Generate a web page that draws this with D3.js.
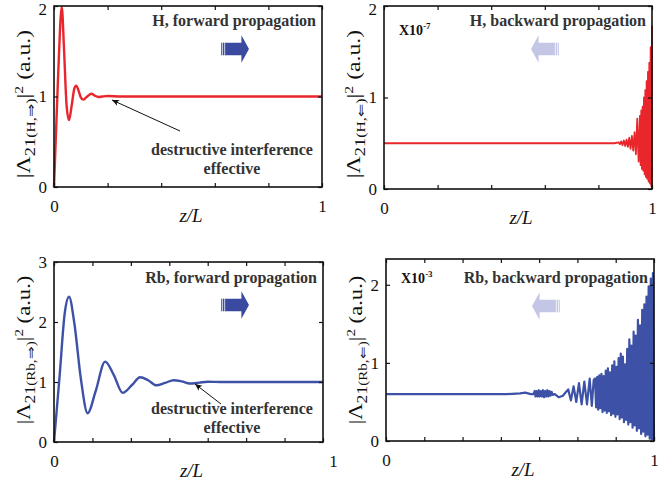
<!DOCTYPE html>
<html>
<head>
<meta charset="utf-8">
<script src="https://cdn.jsdelivr.net/npm/d3@7"></script>
<style>
  html, body { margin: 0; padding: 0; background: #fff; }
  svg { display: block; }
  text { font-family: "Liberation Serif", "Times New Roman", serif; }
</style>
</head>
<body>
<svg id="chart" width="672" height="482"></svg>
<script>
// ---- H, forward propagation: damped ringing that settles at 1
const zHFwd = [0, 0.015, 0.029, 0.037, 0.047, 0.056, 0.066, 0.076, 0.083, 0.091, 0.1, 0.109, 0.12, 0.132, 0.14, 0.152, 0.165, 0.18, 0.2, 0.25, 1];
const vHFwd = [0, 1.2, 1.99, 1.55, 0.9, 0.74, 0.9, 1.09, 1.12, 1.07, 0.99, 0.965, 0.99, 1.02, 1.03, 1.01, 0.995, 1.0, 1.005, 1.0, 1.0];

// ---- H, backward propagation (x10^-7): flat, then fast growing oscillation near z = L
const zHBwd = [0, 0.86, 0.875, 0.88, 0.885, 0.89, 0.895, 0.9, 0.905, 0.91, 0.915, 0.92, 0.925, 0.93, 0.935, 0.94,
  0.945, 0.95,
  0.955, 0.9575, 0.96, 0.9625, 0.965, 0.9675, 0.97, 0.9725, 0.975, 0.9775, 0.98, 0.9825, 0.985, 0.9875,
  0.99, 0.9925, 0.995, 0.9975, 1.0, 1.0];
const vHBwd = [0.5, 0.5, 0.51, 0.49, 0.52, 0.48, 0.53, 0.47, 0.54, 0.46, 0.56, 0.44, 0.58, 0.42, 0.62, 0.38,
  0.77, 0.3,
  0.8, 0.26, 0.86, 0.22, 0.9, 0.2, 1.0, 0.16, 1.08, 0.13, 1.18, 0.11, 1.28, 0.08,
  1.38, 0.06, 1.55, 0.03, 1.78, 0.0];

// ---- Rb, forward propagation
const zRbFwd = [0, 0.02, 0.04, 0.056, 0.075, 0.1, 0.125, 0.155, 0.19, 0.222, 0.255, 0.29, 0.32, 0.35, 0.38, 0.413, 0.445, 0.475, 0.505, 0.54, 0.57, 0.62, 1];
const vRbFwd = [0, 1.05, 2.15, 2.42, 2.0, 1.05, 0.48, 0.85, 1.34, 1.12, 0.82, 0.95, 1.08, 1.03, 0.945, 0.985, 1.03, 1.01, 0.975, 0.99, 1.005, 1.0, 1.0];

// ---- Rb, backward propagation (x10^-3)
const zRbBwd = [0, 0.45, 0.5, 0.52, 0.54, 0.55, 0.555, 0.558, 0.562, 0.566, 0.57, 0.574, 0.578, 0.582, 0.586, 0.59, 0.594,
  0.598, 0.602, 0.606, 0.61, 0.614, 0.618, 0.622, 0.63, 0.645, 0.66, 0.67, 0.68, 0.69, 0.7, 0.71, 0.72, 0.73, 0.74, 0.75,
  0.76, 0.768, 0.775,
  0.78, 0.784, 0.788, 0.792, 0.796, 0.8, 0.804, 0.808, 0.812, 0.816, 0.82, 0.824, 0.828, 0.832, 0.836, 0.84,
  0.844, 0.848, 0.852, 0.856, 0.86, 0.864, 0.868, 0.872, 0.876, 0.88, 0.884, 0.888, 0.892, 0.896, 0.9, 0.904,
  0.908, 0.912, 0.916, 0.92, 0.924, 0.928, 0.932, 0.936, 0.94, 0.944, 0.948, 0.952, 0.956, 0.96, 0.964, 0.968,
  0.972, 0.976, 0.98, 0.984, 0.988, 0.992, 0.996, 1.0];
const vRbBwd = [0.6, 0.6, 0.61, 0.62, 0.6, 0.6, 0.64, 0.57, 0.64, 0.57, 0.65, 0.57, 0.64, 0.57, 0.65, 0.56, 0.64,
  0.57, 0.65, 0.57, 0.64, 0.58, 0.63, 0.59, 0.6, 0.56, 0.58, 0.62, 0.66, 0.52, 0.7, 0.5, 0.74, 0.47, 0.76, 0.47,
  0.8, 0.45, 0.78,
  0.8, 0.43, 0.82, 0.4, 0.84, 0.42, 0.86, 0.37, 0.83, 0.39, 0.9, 0.36, 0.93, 0.38, 0.88, 0.33,
  0.97, 0.35, 1.02, 0.31, 0.95, 0.34, 1.06, 0.28, 1.12, 0.3, 1.08, 0.24, 0.98, 0.27, 1.18, 0.21,
  1.3, 0.24, 1.22, 0.17, 1.4, 0.2, 1.35, 0.13, 1.55, 0.16, 1.48, 0.09, 1.68, 0.12, 1.75, 0.06,
  1.85, 0.08, 1.98, 0.03, 2.08, 0.02, 2.15, 0.0];

// ---- tick positions and labels
const xTicksFifths = [0, 0.2, 0.4, 0.6, 0.8, 1];
const xTicksSevenths = [0, 0.1429, 0.2857, 0.4286, 0.5714, 0.7143, 0.8571, 1];
const xTickLabels = ["0", "1"];
const yTicks2 = [0, 1, 2];
const yTicks3 = [0, 1, 2, 3];

const RED = "#e8262b";
const BLUE = "#3d52a6";
const FWD_ARROW = "#3a4aa0";
const BWD_ARROW = "#c4c6e6";
const TEXT_GRAY = "#333";

const svg = d3.select("#chart");

const defs = svg.append("defs");
defs.append("marker")
  .attr("id", "tip")
  .attr("viewBox", "0 0 10 10")
  .attr("refX", 10).attr("refY", 5)
  .attr("markerWidth", 9).attr("markerHeight", 7)
  .attr("markerUnits", "userSpaceOnUse")
  .attr("orient", "auto")
  .append("path")
  .attr("d", "M0,0.5 L10,5 L0,9.5 L2.5,5 Z")
  .attr("fill", "#111");

const panels = [
  { frame: [54, 322, 6, 187], z: zHFwd, v: vHFwd, ymax: 2, yTicks: yTicks2, xTicks: xTicksFifths,
    color: RED, width: 2.4, curve: d3.curveMonotoneX, title: "H, forward propagation", sup: "(H,\u21D2)",
    arrow: { dir: 1, tip: [249, 49] }, labelY: 104, titleY: 26,
    note: { x: 232, y: 155, from: [180, 131], to: [112, 100] } },
  { frame: [384, 652, 6, 189], z: zHBwd, v: vHBwd, ymax: 2, yTicks: yTicks2, xTicks: xTicksFifths,
    color: RED, width: 1.8, curve: d3.curveLinear, title: "H, backward propagation", sup: "(H,\u21D0)",
    arrow: { dir: -1, tip: [531, 49] }, labelY: 104, titleY: 26, exp: "-7", expY: 35 },
  { frame: [54, 323, 262, 442], z: zRbFwd, v: vRbFwd, ymax: 3, yTicks: yTicks3, xTicks: xTicksSevenths,
    color: BLUE, width: 2.4, curve: d3.curveMonotoneX, title: "Rb, forward propagation", sup: "(Rb,\u21D2)",
    arrow: { dir: 1, tip: [249, 305] }, labelY: 350, titleY: 283, lastLabelDx: 10,
    note: { x: 232, y: 414, from: [221, 404], to: [195, 384] } },
  { frame: [386, 654, 259, 441], z: zRbBwd, v: vRbBwd, ymax: 2.33, yTicks: yTicks2, xTicks: xTicksSevenths,
    color: BLUE, width: 2.2, curve: d3.curveLinear, title: "Rb, backward propagation", sup: "(Rb,\u21D0)",
    arrow: { dir: -1, tip: [532, 306] }, labelY: 350, titleY: 283, exp: "-3", expY: 283 }
];

function tickText(d) {
  if (d === 0) return xTickLabels[0];
  if (d === 1) return xTickLabels[1];
  return "";
}

function blockArrow(g, a, fill) {
  // striped tail, solid shaft, short wide head; dir = +1 points right, -1 points left
  const [tx, cy] = a.tip;
  const s = a.dir;
  const X = dx => tx - s * dx;
  const ag = g.append("g").attr("fill", fill);
  [27.8, 26.0, 24.3].forEach(dx => {
    ag.append("rect").attr("x", Math.min(X(dx), X(dx - 1.1))).attr("y", cy - 6.3)
      .attr("width", 1.1).attr("height", 12.6);
  });
  ag.append("path").attr("d",
    `M${X(23.3)},${cy - 6.3} L${X(7.6)},${cy - 6.3} L${X(7.6)},${cy - 13.8} L${X(0)},${cy}
     L${X(7.6)},${cy + 13.8} L${X(7.6)},${cy + 6.3} L${X(23.3)},${cy + 6.3} Z`);
}

panels.forEach(p => {
  const [x0, x1, y0, y1] = p.frame;
  const g = svg.append("g");
  const x = d3.scaleLinear().domain([0, 1]).range([x0, x1]);
  const y = d3.scaleLinear().domain([0, p.ymax]).range([y1, y0]);

  // curve
  const pts = p.z.map((z, i) => [z, p.v[i]]);
  const line = d3.line().x(d => x(d[0])).y(d => y(d[1])).curve(p.curve);
  g.append("path").datum(pts)
    .attr("d", line)
    .attr("fill", "none")
    .attr("stroke", p.color)
    .attr("stroke-width", p.width)
    .attr("stroke-linejoin", "round");

  // axes with inward ticks on all four sides
  const bottom = g.append("g").attr("transform", `translate(0,${y1})`)
    .call(d3.axisBottom(x).tickValues(p.xTicks).tickSizeInner(-4).tickSizeOuter(0).tickPadding(13).tickFormat(tickText));
  const top = g.append("g").attr("transform", `translate(0,${y0})`)
    .call(d3.axisTop(x).tickValues(p.xTicks).tickSizeInner(-4).tickSizeOuter(0).tickFormat(() => ""));
  const left = g.append("g").attr("transform", `translate(${x0},0)`)
    .call(d3.axisLeft(y).tickValues(p.yTicks).tickSizeInner(-4).tickSizeOuter(0).tickPadding(7).tickFormat(d3.format("d")));
  const right = g.append("g").attr("transform", `translate(${x1},0)`)
    .call(d3.axisRight(y).tickValues(p.yTicks).tickSizeInner(-4).tickSizeOuter(0).tickFormat(() => ""));
  [bottom, top, left, right].forEach(a => {
    a.select(".domain").remove();
    a.attr("font-size", 17);
    a.selectAll("line").attr("stroke", "#111").attr("stroke-width", 1.2);
    a.selectAll("text").attr("fill", "#111");
  });
  // keep a label sitting on the top edge of the frame inside the canvas
  left.selectAll(".tick text").filter(d => y(d) < 9).attr("dy", "0.5em");
  if (p.lastLabelDx) {
    bottom.selectAll(".tick text").filter(d => d === 1).attr("dx", p.lastLabelDx);
  }

  // frame
  g.append("rect")
    .attr("x", x0).attr("y", y0).attr("width", x1 - x0).attr("height", y1 - y0)
    .attr("fill", "none").attr("stroke", "#111").attr("stroke-width", 1.6);

  // x-axis title
  g.append("text")
    .attr("x", (x0 + x1) / 2 + 3).attr("y", y1 + 35)
    .attr("text-anchor", "middle").attr("font-size", 19).attr("font-style", "italic").attr("fill", "#111")
    .text("z/L");

  // y-axis title
  const yl = g.append("text")
    .attr("text-anchor", "middle").attr("fill", "#111");
  yl.append("tspan").attr("font-size", 18).text("|\u039B");
  yl.append("tspan").attr("font-size", 14).attr("dy", 5).text("21");
  yl.append("tspan").attr("font-size", 12).attr("dy", 0).text(p.sup);
  yl.append("tspan").attr("font-size", 18).attr("dy", -5).text("|");
  yl.append("tspan").attr("font-size", 12).attr("dy", -7).text("2");
  yl.append("tspan").attr("font-size", 18).attr("dy", 7).text(" (a.u.)");
  const len = yl.node().getBBox().width;
  const stretch = 148 / len;
  yl.attr("transform", `translate(${x0 - 24},${p.labelY}) rotate(-90) scale(${stretch},1)`);

  // panel title
  g.append("text")
    .attr("x", x1 - 6).attr("y", p.titleY)
    .attr("text-anchor", "end").attr("font-size", 16).attr("font-weight", "bold").attr("fill", TEXT_GRAY)
    .text(p.title);

  // scale factor note
  if (p.exp) {
    const t = g.append("text")
      .attr("x", x0 + 15).attr("y", p.expY)
      .attr("font-size", 14).attr("font-weight", "bold").attr("fill", "#111");
    t.append("tspan").text("X10");
    t.append("tspan").attr("font-size", 9).attr("dy", -6).text(p.exp);
  }

  // propagation direction arrow
  blockArrow(g, p.arrow, p.arrow.dir > 0 ? FWD_ARROW : BWD_ARROW);

  // annotation
  if (p.note) {
    const n = p.note;
    g.append("line")
      .attr("x1", n.from[0]).attr("y1", n.from[1]).attr("x2", n.to[0]).attr("y2", n.to[1])
      .attr("stroke", "#111").attr("stroke-width", 1)
      .attr("marker-end", "url(#tip)");
    const t = g.append("text")
      .attr("text-anchor", "middle").attr("font-size", 16).attr("font-weight", "bold").attr("fill", TEXT_GRAY);
    t.append("tspan").attr("x", n.x).attr("y", n.y).text("destructive interference");
    t.append("tspan").attr("x", n.x).attr("y", n.y + 19).text("effective");
  }
});
</script>
</body>
</html>
